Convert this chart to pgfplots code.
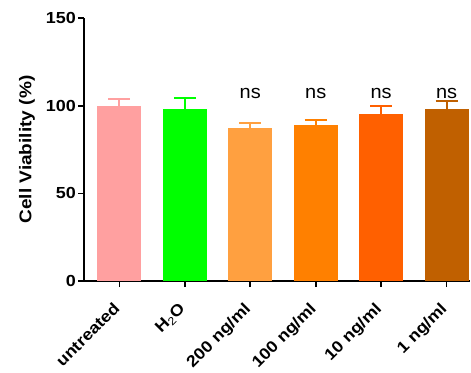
\documentclass[border=0pt]{standalone}
\usepackage{pgfplots}
\pgfplotsset{compat=1.18}
\usepackage{fontspec}
\setmainfont{Liberation Sans}[FakeStretch=1.12]
\newfontfamily\nsfont{Liberation Sans}[FakeStretch=1.05]
\definecolor{cA}{HTML}{FFA0A0}
\definecolor{cB}{HTML}{00FF00}
\definecolor{cC}{HTML}{FFA040}
\definecolor{cD}{HTML}{FF8000}
\definecolor{cE}{HTML}{FF6000}
\definecolor{cF}{HTML}{C06000}
\begin{document}
\begin{tikzpicture}
\begin{axis}[
  scale only axis,
  width=386pt, height=263pt,
  xmin=-0.54, xmax=5.36,
  ymin=0, ymax=150,
  axis lines=left,
  axis line style={-, line width=1.6pt},
  ytick={0,50,100,150},
  xtick={0,1,2,3,4,5},
  xticklabels={untreated,H{\mdseries\textsubscript{2}}O,200 ng/ml,100 ng/ml,10 ng/ml,1 ng/ml},
  tick align=outside,
  major tick length=6pt,
  tick style={line width=1.6pt, black},
  xticklabel style={rotate=45, anchor=north east, font=\fontsize{16}{18}\selectfont\bfseries, inner sep=1pt, xshift=-14pt, yshift=-4pt},
  yticklabel style={font=\fontsize{16}{18}\selectfont\bfseries, inner sep=2pt},
  /pgf/number format/assume math mode=true,
  ylabel={Cell Viability (\%)},
  ylabel style={font=\fontsize{17}{19}\selectfont\bfseries, at={(rel axis cs:0,0.5)}, anchor=center, yshift=57pt},
  bar width=0.67,
  ybar, bar shift=0pt,
  error bars/y dir=plus, error bars/y explicit,
  clip=false,
]
\addplot[fill=cA, draw=none, error bars/error bar style={line width=2pt, cA}, error bars/error mark options={line width=2pt, cA, mark size=11pt, rotate=90}] coordinates {(0,100) +- (0,3.8)};
\addplot[fill=cB, draw=none, error bars/error bar style={line width=2pt, cB}, error bars/error mark options={line width=2pt, cB, mark size=11pt, rotate=90}] coordinates {(1,98.1) +- (0,6.3)};
\addplot[fill=cC, draw=none, error bars/error bar style={line width=2pt, cC}, error bars/error mark options={line width=2pt, cC, mark size=11pt, rotate=90}] coordinates {(2,87.2) +- (0,2.9)};
\addplot[fill=cD, draw=none, error bars/error bar style={line width=2pt, cD}, error bars/error mark options={line width=2pt, cD, mark size=11pt, rotate=90}] coordinates {(3,89.1) +- (0,2.5)};
\addplot[fill=cE, draw=none, error bars/error bar style={line width=2pt, cE}, error bars/error mark options={line width=2pt, cE, mark size=11pt, rotate=90}] coordinates {(4,95.4) +- (0,4.2)};
\addplot[fill=cF, draw=none, error bars/error bar style={line width=2pt, cF}, error bars/error mark options={line width=2pt, cF, mark size=11pt, rotate=90}] coordinates {(5,98.1) +- (0,4.4)};
\node[font=\nsfont\fontsize{19}{21}\selectfont] at (axis cs:2,107) {ns};
\node[font=\nsfont\fontsize{19}{21}\selectfont] at (axis cs:3,107) {ns};
\node[font=\nsfont\fontsize{19}{21}\selectfont] at (axis cs:4,107) {ns};
\node[font=\nsfont\fontsize{19}{21}\selectfont] at (axis cs:5,107) {ns};
\coordinate (ll) at (rel axis cs:0,0);
\coordinate (ur) at (rel axis cs:1,1);
\end{axis}
\path (ll) ++(-84pt,0) rectangle ++(1pt,1pt);
\path (ur) ++(0,18pt) rectangle ++(-1pt,-1pt);
\end{tikzpicture}
\end{document}
